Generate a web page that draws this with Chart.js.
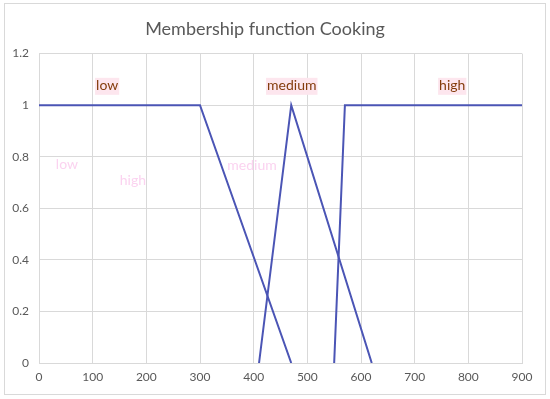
<!DOCTYPE html>
<html>
<head>
<meta charset="utf-8">
<title>Membership function Cooking</title>
<script src="https://cdn.jsdelivr.net/npm/chart.js"></script>
<style>
html,body{margin:0;padding:0;background:#fff}
#wrap{width:550px;height:399px;position:relative}
</style>
</head>
<body>
<div id="wrap"><canvas id="chart" width="550" height="399"></canvas></div>
<script>
// ===== DATA =====
const lowX = [0, 300, 470]
const lowY = [1, 1, 0]
const medX = [410, 470, 620]
const medY = [0, 1, 0]
const highX = [550, 570, 900]
const highY = [0, 1, 1]

const labelText = ["low", "medium", "high"]
const labelX = [127, 471, 770]
const labelY = [1.075, 1.075, 1.075]

// faint ghost labels in the picture
const ghostText = ["low", "high", "medium"]
const ghostX = [52, 175, 397]
const ghostY = [0.77, 0.707, 0.765]

const pts = (xs, ys) => xs.map((x, i) => ({x: x, y: ys[i]}))
const lineColor = '#4b55b5'
const font = "Lato, 'Open Sans', sans-serif"

// ===== PLUGINS =====
const frame = {
  id: 'frame',
  beforeDraw(c) {
    const ctx = c.ctx
    ctx.save()
    ctx.fillStyle = '#fff'
    ctx.fillRect(0, 0, c.width, c.height)
    ctx.strokeStyle = '#d9d9d9'
    ctx.lineWidth = 1
    ctx.strokeRect(4.5, 3.5, 541, 391)
    ctx.restore()
  }
}

const labels = {
  id: 'labels',
  afterDatasetsDraw(c) {
    const ctx = c.ctx, xs = c.scales.x, ys = c.scales.y
    ctx.save()
    ctx.textAlign = 'center'
    ctx.textBaseline = 'middle'
    ctx.font = '14px ' + font
    ghostText.forEach((t, i) => {
      ctx.fillStyle = '#fbd3f0'
      ctx.fillText(t, xs.getPixelForValue(ghostX[i]), ys.getPixelForValue(ghostY[i]))
    })
    labelText.forEach((t, i) => {
      const px = xs.getPixelForValue(labelX[i]), py = ys.getPixelForValue(labelY[i])
      const w = ctx.measureText(t).width
      ctx.fillStyle = '#fde6ee'
      ctx.fillRect(px - w / 2 - 1, py - 8, w + 2, 17)
      ctx.fillStyle = '#843c0c'
      ctx.fillText(t, px, py)
    })
    ctx.restore()
  }
}

// ===== CHART =====
new Chart(document.getElementById('chart'), {
  type: 'scatter',
  data: {
    datasets: [
      {data: pts(lowX, lowY)},
      {data: pts(medX, medY)},
      {data: pts(highX, highY)}
    ].map(d => Object.assign(d, {
      showLine: true, borderColor: lineColor, borderWidth: 2,
      pointRadius: 0, tension: 0, fill: false
    }))
  },
  options: {
    responsive: false,
    animation: false,
    layout: {padding: {left: 8, right: 28, top: 0, bottom: 10}},
    plugins: {
      legend: {display: false},
      tooltip: {enabled: false},
      title: {
        display: true,
        text: 'Membership function Cooking',
        color: '#595959',
        font: {family: font, size: 18, weight: 'normal'},
        padding: {top: 18, bottom: 14}
      }
    },
    scales: {
      x: {
        type: 'linear', min: 0, max: 900,
        ticks: {stepSize: 100, color: '#595959', font: {family: font, size: 12}, padding: 7},
        grid: {color: '#d9d9d9', drawTicks: false},
        border: {color: '#d9d9d9'},
        afterFit(s) { s.height = 26 }
      },
      y: {
        min: 0, max: 1.2,
        ticks: {
          stepSize: 0.2, color: '#595959', font: {family: font, size: 12}, padding: 10,
          callback: v => String(Math.round(v * 10) / 10)
        },
        grid: {color: '#d9d9d9', drawTicks: false},
        border: {display: false},
        afterFit(s) { s.width = 31 }
      }
    }
  },
  plugins: [frame, labels]
})
</script>
</body>
</html>
